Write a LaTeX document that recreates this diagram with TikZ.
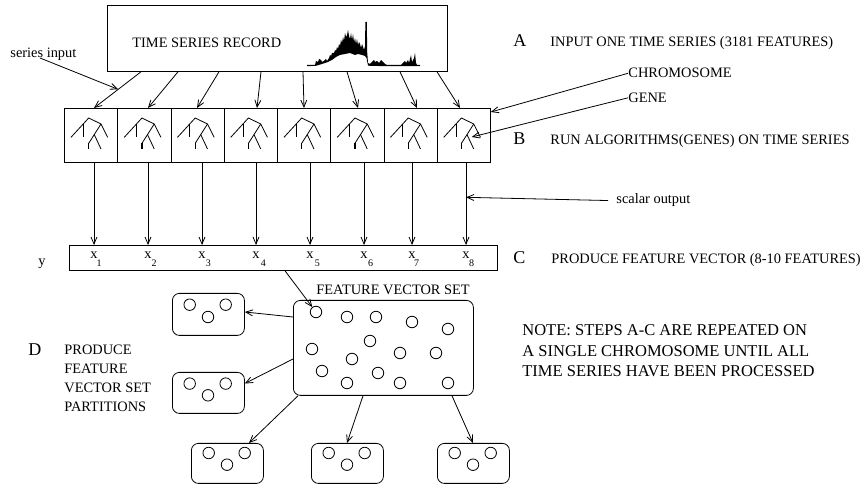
\documentclass[tikz,border=0pt]{standalone}
\usepackage{fontspec}
\setmainfont{Liberation Serif}
\usetikzlibrary{arrows.meta,calc}
\begin{document}
\begin{tikzpicture}[x=1pt,y=-1pt,line width=0.8pt,
  arr/.style={-{Straight Barb[length=7pt,width=6pt,line width=0.8pt]}},
  txt/.style={inner sep=0,anchor=base west,font=\fontsize{14.4}{17}\selectfont},
  bigl/.style={inner sep=0,anchor=base west,font=\fontsize{18}{20}\selectfont},
  notetxt/.style={inner sep=0,anchor=base west,font=\fontsize{16.5}{19}\selectfont},
  sbox/.style={draw,rectangle,inner sep=0,anchor=north west},
  rbox/.style={draw,rectangle,rounded corners=7pt,inner sep=0,anchor=north west},
  vdot/.style={draw,circle,inner sep=0,minimum size=11.5pt},
  xl/.style={inner sep=0,font=\fontsize{14.4}{17}\selectfont},
  subl/.style={inner sep=0,font=\fontsize{10}{12}\selectfont},
  tree/.pic={
    \draw (7,29.3) -- (24.7,10) -- (37,16) -- (43.7,29.3);
    \draw (19.3,16) -- (19.3,29.3);
    \draw (37,16) -- (24.7,35.3);
    \draw[line width=1.3pt] (24.7,35.3) -- (24.7,41);
    \draw (30.3,26.7) -- (37,41);
  }
]
\path[use as bounding box] (0,0) rectangle (863,486);

% time series record
\node[sbox,minimum width=340pt,minimum height=66pt] (rec) at (107,5) {};
\node[txt] (rt) at (132,48) {TIME SERIES RECORD};
\fill (307,65) -- (315,65) -- (316,61) -- (318,62) -- (319,59) -- (321,60) -- (322,62) -- (324,61)
  -- (326,59) -- (327,61) -- (329,58) -- (330,55) -- (331,56) -- (332,53) -- (334,53) -- (335,50) -- (336,51)
  -- (337,47) -- (338,49) -- (339,44) -- (340,46) -- (341,40) -- (342,43) -- (343,37) -- (344,41) -- (345,33)
  -- (346,37) -- (347,35) -- (348,30) -- (349,36) -- (350,39) -- (351,33) -- (352,40) -- (353,34)
  -- (354,42) -- (355,38) -- (356,44) -- (357,39) -- (358,45) -- (359,42) -- (360,44) -- (361,48) -- (362,44) -- (363,47)
  -- (364,50) -- (365,46) -- (365.4,22) -- (366.8,22) -- (367.2,52) -- (368,63) -- (370,64)
  -- (372,62) -- (374,60) -- (375,62) -- (377,61) -- (379,63) -- (381,60) -- (383,62) -- (385,64)
  -- (387,65) -- (401,65) -- (403,63) -- (405,61) -- (406,63) -- (408,60) -- (409,63) -- (411,55)
  -- (412,62) -- (414,58) -- (415,53) -- (416,63) -- (417,65) -- (420,65)
  -- (420,66.2) -- (387,66.2) -- (370,65.8) -- (368,65.5) -- (366.5,58) -- (365,56) -- (362,55)
  -- (358,54) -- (355,55) -- (350,53) -- (345,54) -- (340,55) -- (336,57) -- (332,60) -- (328,62) -- (322,64)
  -- (316,65.8) -- (307,66.2) -- cycle;

% gene boxes
\foreach \i in {1,...,8} {
  \node[sbox,minimum width=53.25pt,minimum height=54pt] (g\i) at ({64+53.25*(\i-1)},108) {};
  \pic at (g\i.north west) {tree};
}

% arrows from record to genes
\draw[arr] ([shift={(34,0)}]rec.south west) -- coordinate[pos=0.486] (hit) ([shift={(30,0)}]g1.north west);
\foreach \s/\e/\i in {71/30.75/2,112/26.5/3,154/33.25/4,196/27/5,240/27.75/6,293/33.5/7,330/23.25/8}
  \draw[arr] ([shift={(\s,0)}]rec.south west) -- ([shift={(\e,0)}]g\i.north west);

\node[txt] (si) at (10,58) {series input};
\draw[arr] ([shift={(30,0)}]si.base west) -- (hit);

% right-hand labels
\node[bigl] (la) at (513,47) {A};
\node[txt] (ta) at (550,47) {INPUT ONE TIME SERIES (3181 FEATURES)};
\node[txt] (chr) at (628,78) {CHROMOSOME};
\node[txt] (gene) at (628,102.5) {GENE};
\draw[arr] (chr.west) -- ([shift={(0,4)}]g8.north east);
\draw[arr] (gene.west) -- ([shift={(35,29)}]g8.north west);
\node[bigl] (lb) at (513,145) {B};
\node[txt] (tb) at (550,145) {RUN ALGORITHMS(GENES) ON TIME SERIES};
\node[bigl] (lc) at (513,264) {C};
\node[txt] (tc) at (551,264) {PRODUCE FEATURE VECTOR (8-10 FEATURES)};

% feature vector
\node[sbox,minimum width=428pt,minimum height=25pt] (vec) at (69,245) {};
\node[txt] (ylab) at (38,266) {y};
\foreach \x/\s [count=\i] in {94/99,148/154,202/208.3,256/263.3,310/317.3,364/370.7,412/416.7,466/471.7} {
  \node[xl] (x\i) at (\x,255) {x};
  \node[subl] (s\i) at (\s,263.5) {\i};
  \draw[arr] (g\i.south -| x\i) -- coordinate[pos=0.42] (v\i) (x\i |- vec.north);
}
\node[txt] (sc) at (616,204) {scalar output};
\draw[arr] ([shift={(-8,0)}]sc.west) -- (v8);

% feature vector set
\node[txt] (fvs) at (316,294.7) {FEATURE VECTOR SET};
\node[rbox,minimum width=180pt,minimum height=95pt] (set) at (293,300) {};
\foreach \x/\y [count=\i] in {316/312,347/317,376/317,412/322,448/329,370/341,312/349,400/353,436/353,352/359,322/371,378/373,347/383,400/383,448/383}
  \node[vdot] (c\i) at (\x,\y) {};
\draw[arr] ([shift={(216,0)}]vec.south west) -- (c1);

% partitions
\node[rbox,minimum width=72pt,minimum height=42pt] (p1) at (172,293) {};
\node[rbox,minimum width=72pt,minimum height=41pt] (p2) at (172,372) {};
\node[rbox,minimum width=72pt,minimum height=40pt] (p3) at (191,443) {};
\node[rbox,minimum width=72pt,minimum height=40pt] (p4) at (311,443) {};
\node[rbox,minimum width=72pt,minimum height=40pt] (p5) at (437,443) {};
\foreach \p/\a/\b in {p1/11.7/24,p2/11.6/23.3,p3/10/21.7,p4/10/21.7,p5/10/21.7} {
  \node[vdot] (\p-a) at ([shift={(17.7,\a)}]\p.north west) {};
  \node[vdot] (\p-b) at ([shift={(36,\b)}]\p.north west) {};
  \node[vdot] (\p-c) at ([shift={(53.7,\a)}]\p.north west) {};
}
\draw[arr] ([shift={(0,17)}]set.north west) -- ([shift={(0,19)}]p1.north east);
\draw[arr] ([shift={(0,59)}]set.north west) -- ([shift={(0,11.5)}]p2.north east);
\draw[arr] ([shift={(5,0)}]set.south west) -- ([shift={(58,0)}]p3.north west);
\draw[arr] ([shift={(70,0)}]set.south west) -- ([shift={(36,0)}]p4.north west);
\draw[arr] ([shift={(159,0)}]set.south west) -- ([shift={(36,0)}]p5.north west);

% D label
\node[bigl] (ld) at (28,356) {D};
\node[txt] (d1) at (64,354.7) {PRODUCE};
\node[txt] (d2) at (64,374) {FEATURE};
\node[txt] (d3) at (64,392.5) {VECTOR SET};
\node[txt] (d4) at (64,411.5) {PARTITIONS};

% note
\node[notetxt] (n1) at (522,335.4) {NOTE: STEPS A-C ARE REPEATED ON};
\node[notetxt] (n2) at (522,356.4) {A SINGLE CHROMOSOME UNTIL ALL};
\node[notetxt] (n3) at (522,377) {TIME SERIES HAVE BEEN PROCESSED};
\end{tikzpicture}
\end{document}
